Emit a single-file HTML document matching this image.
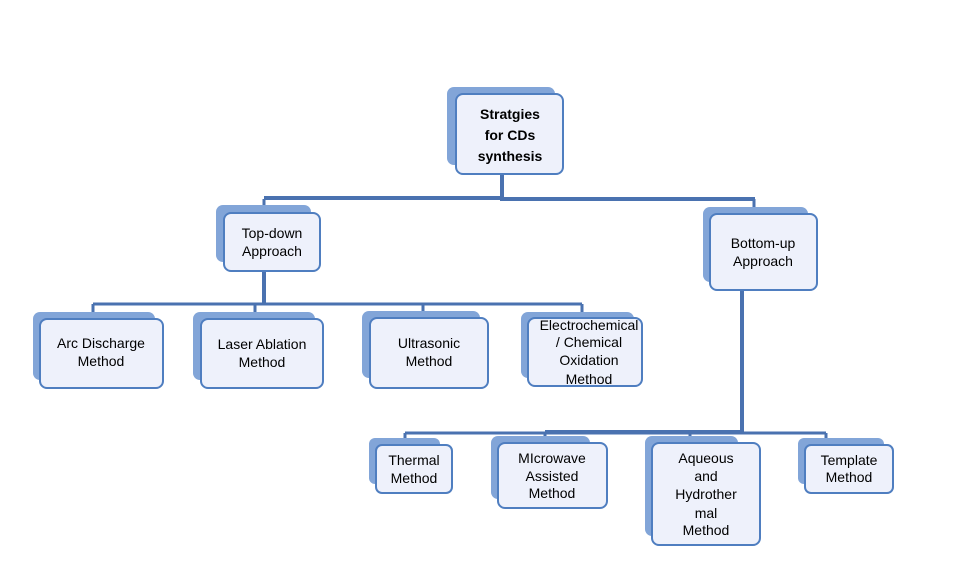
<!DOCTYPE html>
<html><head><meta charset="utf-8"><style>
html,body{margin:0;padding:0;background:#fff;}
svg{display:block;}
text{font-family:"Liberation Sans",sans-serif;font-size:14px;fill:#000;text-anchor:middle;}
.s{fill:#82a5d8;}
.f{fill:#eef1fb;stroke:#4f7ec0;stroke-width:2;}
.c{stroke:#4a72b0;fill:none;}
</style></head><body>
<svg width="972" height="578" viewBox="0 0 972 578" xmlns="http://www.w3.org/2000/svg">
<!-- connectors -->
<path class="c" stroke-width="4" d="M502 174V198M264 198H502V199H755"/>
<path class="c" stroke-width="3" d="M264 199V213M754 199V214"/>
<path class="c" stroke-width="4" d="M264 271V304M742 290V432"/>
<path class="c" stroke-width="3" d="M93 304H582M93 304V319M255 304V319M423 304V318M582 304V318"/>
<path class="c" stroke-width="3" d="M405 433H826M405 433V445M545 433V443M690 433V443M826 433V445"/>
<path class="c" stroke-width="4" d="M545 432H742"/>
<!-- root -->
<rect class="s" x="447" y="87" width="108" height="78" rx="7"/>
<rect class="f" x="456" y="94" width="107" height="80" rx="7"/>
<text x="510" y="119" font-weight="bold">Stratgies</text>
<text x="510" y="140" font-weight="bold">for CDs</text>
<text x="510" y="161" font-weight="bold">synthesis</text>
<!-- top-down -->
<rect class="s" x="216" y="205" width="95" height="57" rx="7"/>
<rect class="f" x="224" y="213" width="96" height="58" rx="7"/>
<text x="272" y="238">Top-down</text>
<text x="272" y="256">Approach</text>
<!-- bottom-up -->
<rect class="s" x="703" y="207" width="105" height="75" rx="7"/>
<rect class="f" x="710" y="214" width="107" height="76" rx="7"/>
<text x="763" y="248">Bottom-up</text>
<text x="763" y="266">Approach</text>
<!-- level 3 -->
<rect class="s" x="33" y="312" width="122" height="68" rx="7"/>
<rect class="f" x="40" y="319" width="123" height="69" rx="7"/>
<text x="101" y="348">Arc Discharge</text>
<text x="101" y="366">Method</text>
<rect class="s" x="193" y="312" width="122" height="68" rx="7"/>
<rect class="f" x="201" y="319" width="122" height="69" rx="7"/>
<text x="262" y="349">Laser Ablation</text>
<text x="262" y="367">Method</text>
<rect class="s" x="362" y="311" width="118" height="67" rx="7"/>
<rect class="f" x="370" y="318" width="118" height="70" rx="7"/>
<text x="429" y="348">Ultrasonic</text>
<text x="429" y="366">Method</text>
<rect class="s" x="521" y="312" width="113" height="66" rx="7"/>
<rect class="f" x="528" y="318" width="114" height="68" rx="7"/>
<text x="589" y="330">Electrochemical</text>
<text x="589" y="347">/ Chemical</text>
<text x="589" y="365">Oxidation</text>
<text x="589" y="384">Method</text>
<!-- level 4 -->
<rect class="s" x="369" y="438" width="71" height="46" rx="6"/>
<rect class="f" x="376" y="445" width="76" height="48" rx="6"/>
<text x="414" y="465">Thermal</text>
<text x="414" y="483">Method</text>
<rect class="s" x="491" y="436" width="99" height="63" rx="7"/>
<rect class="f" x="498" y="443" width="109" height="65" rx="7"/>
<text x="552" y="463">MIcrowave</text>
<text x="552" y="481">Assisted</text>
<text x="552" y="498">Method</text>
<rect class="s" x="645" y="436" width="93" height="100" rx="7"/>
<rect class="f" x="652" y="443" width="108" height="102" rx="7"/>
<text x="706" y="463">Aqueous</text>
<text x="706" y="481">and</text>
<text x="706" y="499">Hydrother</text>
<text x="706" y="518">mal</text>
<text x="706" y="535">Method</text>
<rect class="s" x="798" y="438" width="86" height="46" rx="6"/>
<rect class="f" x="805" y="445" width="88" height="48" rx="6"/>
<text x="849" y="465">Template</text>
<text x="849" y="482">Method</text>
</svg>
</body></html>
